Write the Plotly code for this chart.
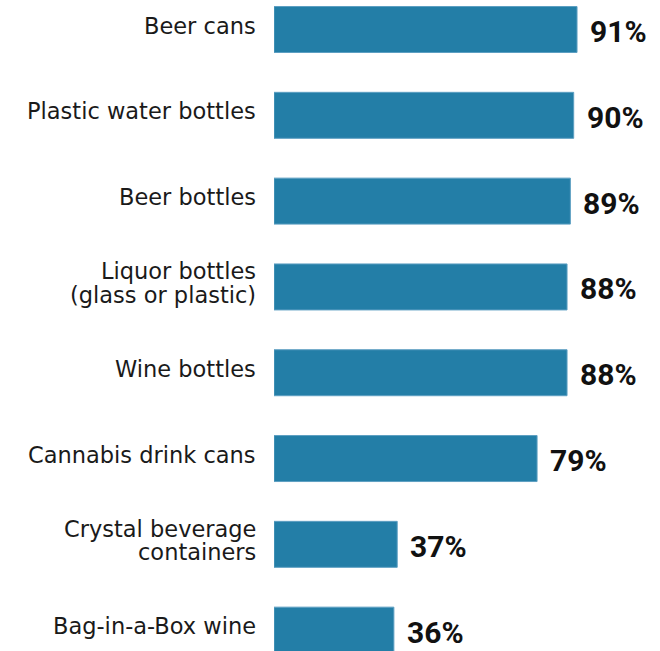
import plotly.graph_objects as go

# Share of respondents, by container type
categories = [
    "Beer cans",
    "Plastic water bottles",
    "Beer bottles",
    "Liquor bottles<br>(glass or plastic)",
    "Wine bottles",
    "Cannabis drink cans",
    "Crystal beverage<br>containers",
    "Bag-in-a-Box wine",
]
values = [91, 90, 89, 88, 88, 79, 37, 36]
value_labels = ["91%", "90%", "89%", "88%", "88%", "79%", "37%", "36%"]

BAR_COLOR = "#237ea7"
LABEL_FONT = "DejaVu Sans"
VALUE_FONT = "Roboto"

positions = list(range(len(categories)))

fig = go.Figure(
    go.Bar(
        x=values,
        y=positions,
        orientation="h",
        width=0.536,
        marker=dict(color=BAR_COLOR, line=dict(color="#5d9fc2", width=1)),
        hoverinfo="skip",
    )
)

annotations = []
for pos, name, val, lab in zip(positions, categories, values, value_labels):
    # value label just past the bar end
    annotations.append(dict(
        x=val, y=pos, xref="x", yref="y", text=f"<b>{lab}</b>",
        showarrow=False, xanchor="left", yanchor="middle",
        xshift=11, yshift=-2,
        font=dict(family=VALUE_FONT, size=30, color="#111111"),
    ))
    # category label, one annotation per line for tight line spacing
    lines = name.split("<br>")
    n = len(lines)
    line_h = 23.5
    for i, line in enumerate(lines):
        offset = (i - (n - 1) / 2) * line_h
        annotations.append(dict(
            x=0, y=pos, xref="x", yref="y", text=line,
            showarrow=False, xanchor="right", yanchor="middle",
            xshift=-16, yshift=4 - offset,
            font=dict(family=LABEL_FONT, size=22.5, color="#1a1a1a"),
        ))

fig.update_layout(
    width=660,
    height=651,
    margin=dict(l=274, r=53, t=0, b=0),
    paper_bgcolor="white",
    plot_bgcolor="white",
    showlegend=False,
    annotations=annotations,
    xaxis=dict(range=[0, 100], visible=False, fixedrange=True),
    yaxis=dict(range=[7.243, -0.344], visible=False, fixedrange=True),
)

fig.write_html("out.html")
